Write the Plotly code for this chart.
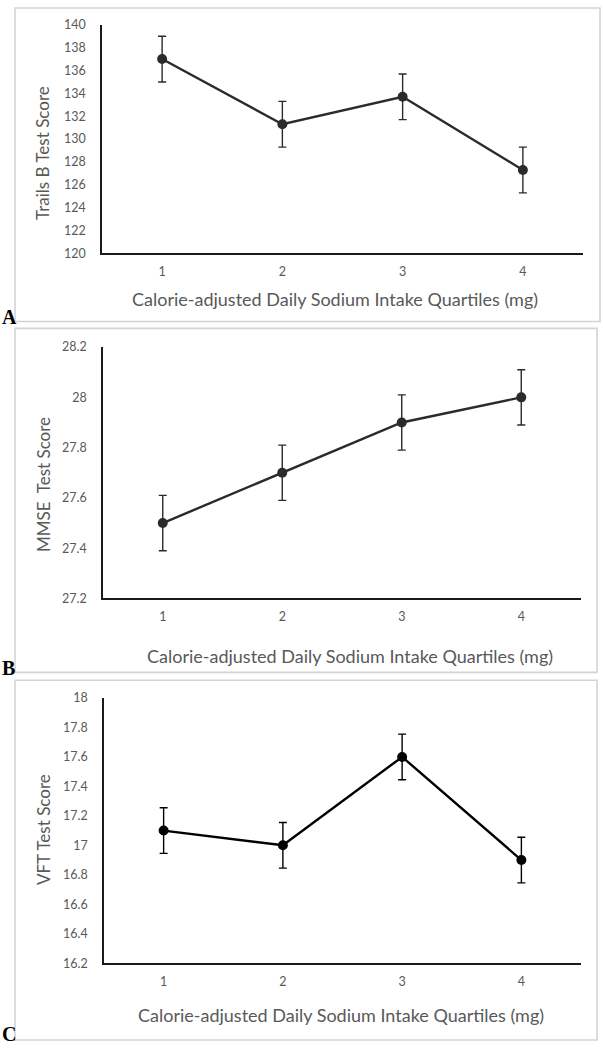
import plotly.graph_objects as go

quartiles = [1, 2, 3, 4]
tick_labels = ["1", "2", "3", "4"]

trails_b = [137.0, 131.3, 133.7, 127.3]
trails_b_err = [2.0, 2.0, 2.0, 2.0]

mmse = [27.5, 27.7, 27.9, 28.0]
mmse_err = [0.11, 0.11, 0.11, 0.11]

vft = [17.1, 17.0, 17.6, 16.9]
vft_err = [0.155, 0.155, 0.155, 0.155]

x_title = "Calorie-adjusted Daily Sodium Intake Quartiles (mg)"
y_titles = ["Trails B Test Score", "MMSE  Test Score", "VFT Test Score"]
panel_letters = ["A", "B", "C"]
y_ranges = [[120, 140], [27.2, 28.2], [16.2, 18.0]]
y_dticks = [2, 0.2, 0.2]

W, H = 603, 1050
def px(x):
    return x / W
def py(y):
    return 1 - y / H

# pixel layout of each panel
panels = [
    dict(x0=102, x1=583, y0=17, y1=249, box=(15, 0, 600, 318), ytc=147, xtx=335, xt=295, let=313, color="#2b2b2b"),
    dict(x0=103, x1=581, y0=344, y1=599, box=(15, 325, 597, 674), ytc=484, xtx=350, xt=657, let=670, color="#2b2b2b"),
    dict(x0=104, x1=581, y0=700, y1=969, box=(15, 682, 597, 1047), ytc=834, xtx=341, xt=1022, let=1041, color="#000000"),
]
series = [(trails_b, trails_b_err), (mmse, mmse_err), (vft, vft_err)]

fig = go.Figure()
font_fam = "Lato, Open Sans, sans-serif"
gray = "#595959"

for i, (p, (vals, errs)) in enumerate(zip(panels, series)):
    n = "" if i == 0 else str(i + 1)
    fig.add_trace(go.Scatter(
        x=quartiles, y=vals, mode="lines+markers",
        line=dict(color=p["color"], width=2.4),
        marker=dict(color=p["color"], size=10),
        error_y=dict(type="data", array=errs, visible=True, color=p["color"], thickness=1.4, width=4),
        xaxis="x" + n, yaxis="y" + n, showlegend=False,
    ))
    fig.layout["xaxis" + n] = dict(
        domain=[px(p["x0"]), px(p["x1"])], range=[0.5, 4.5],
        tickvals=quartiles, ticktext=tick_labels,
        showline=True, linecolor="#1a1a1a", linewidth=1.6,
        showgrid=False, zeroline=False,
        ticks="outside", ticklen=6, tickcolor="rgba(0,0,0,0)",
        tickfont=dict(family=font_fam, size=12.5, color=gray),
        anchor="y" + n, fixedrange=True,
    )
    fig.layout["yaxis" + n] = dict(
        domain=[py(p["y1"]), py(p["y0"])], range=y_ranges[i], dtick=y_dticks[i],
        showline=True, linecolor="#1a1a1a", linewidth=1.6,
        showgrid=False, zeroline=False,
        ticks="outside", ticklen=12, tickcolor="rgba(0,0,0,0)",
        tickfont=dict(family=font_fam, size=12.5, color=gray),
        anchor="x" + n, fixedrange=True,
    )
    bx0, by0, bx1, by1 = p["box"]
    fig.add_shape(type="rect", xref="paper", yref="paper",
                  x0=px(bx0), x1=px(bx1), y0=py(by1), y1=py(by0),
                  line=dict(color="#d4d4d4", width=1.6), layer="below")
    fig.add_annotation(xref="paper", yref="paper", x=px(43), y=py(p["ytc"]),
                       text=y_titles[i], textangle=-90, showarrow=False,
                       font=dict(family=font_fam, size=17, color=gray),
                       xanchor="center", yanchor="middle")
    fig.add_annotation(xref="paper", yref="paper", x=px(p["xtx"]), y=py(p["xt"]),
                       text=x_title, showarrow=False,
                       font=dict(family=font_fam, size=18, color=gray),
                       xanchor="center", yanchor="middle")
    fig.add_annotation(xref="paper", yref="paper", x=px(0), y=py(p["let"]),
                       text="<b>" + panel_letters[i] + "</b>", showarrow=False,
                       font=dict(family="Liberation Serif, serif", size=20, color="#000000"),
                       xanchor="left", yanchor="middle")

fig.update_layout(
    width=W, height=H, margin=dict(l=0, r=0, t=0, b=0),
    paper_bgcolor="white", plot_bgcolor="white",
)
fig.write_html("out.html", config={"displayModeBar": False},
               post_script="document.body.style.margin='0';")
